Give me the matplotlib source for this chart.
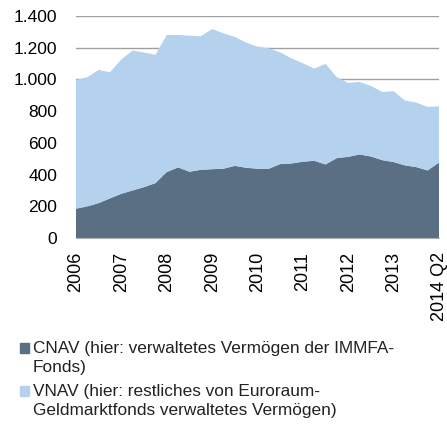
import matplotlib.pyplot as plt
import numpy as np
from matplotlib.patches import Rectangle

plt.rcParams["font.family"] = ["Liberation Sans", "DejaVu Sans"]

# quarterly values, bn EUR
cnav = [185, 199, 220, 250, 279, 300, 321, 346, 416, 445, 418, 430, 434,
        437, 455, 443, 437, 437, 466, 470, 481, 487, 464, 504, 512, 527,
        514, 491, 479, 458, 447, 426, 476]
total = [997, 1014, 1060, 1045, 1127, 1182, 1170, 1155, 1280, 1280, 1276,
         1272, 1318, 1291, 1268, 1232, 1207, 1196, 1171, 1133, 1102, 1068,
         1098, 1014, 978, 984, 959, 921, 926, 867, 854, 827, 831]
vnav = [t - c for t, c in zip(total, cnav)]

x_labels = ["2006", "2007", "2008", "2009", "2010", "2011", "2012", "2013",
            "2014 Q2"]
y_ticks = [0, 200, 400, 600, 800, 1000, 1200, 1400]
y_labels = ["0", "200", "400", "600", "800", "1.000", "1.200", "1.400"]

legend_lines = [
    ["CNAV (hier: verwaltetes Vermögen der IMMFA-", "Fonds)"],
    ["VNAV (hier: restliches von Euroraum-",
     "Geldmarktfonds verwaltetes Vermögen)"],
]

c_dark = "#5b6f84"
c_light = "#b4d1ee"
W, H = 447, 425

fig = plt.figure(figsize=(W / 100, H / 100), dpi=100)
ax = fig.add_axes([76 / W, (H - 238) / H, 363 / W, 222 / H])

x = np.arange(len(cnav))
ax.stackplot(x, cnav, vnav, colors=[c_dark, c_light], zorder=2)

ax.set_xlim(0, len(cnav) - 1)
ax.set_ylim(0, 1400)
ax.set_yticks(y_ticks)
ax.set_yticklabels(y_labels, fontsize=12.5)
ax.set_xticks(x[::4])
ax.set_xticklabels(x_labels, rotation=90, fontsize=13, va="top")
ax.tick_params(axis="both", length=0, colors="#000000")
ax.tick_params(axis="x", pad=10)
ax.tick_params(axis="y", pad=13.5)

ax.grid(axis="y", color="#a0a0a0", linewidth=1.0, zorder=0)
ax.set_axisbelow(True)
for s in ["left", "right", "top"]:
    ax.spines[s].set_visible(False)
ax.spines["bottom"].set_color("#b0b0b0")

# legend, drawn by hand so the swatch sits on the first line
baselines = [[353, 372], [396, 415]]
for color, lines, bl in zip([c_dark, c_light], legend_lines, baselines):
    fig.add_artist(Rectangle((20 / W, (H - bl[0]) / H), 9 / W, 10 / H,
                             transform=fig.transFigure, color=color))
    for line, b in zip(lines, bl):
        fig.text(33 / W, (H - b) / H, line, fontsize=12.4, va="baseline",
                 color="#222222")

fig.savefig("out.png", dpi=100)
